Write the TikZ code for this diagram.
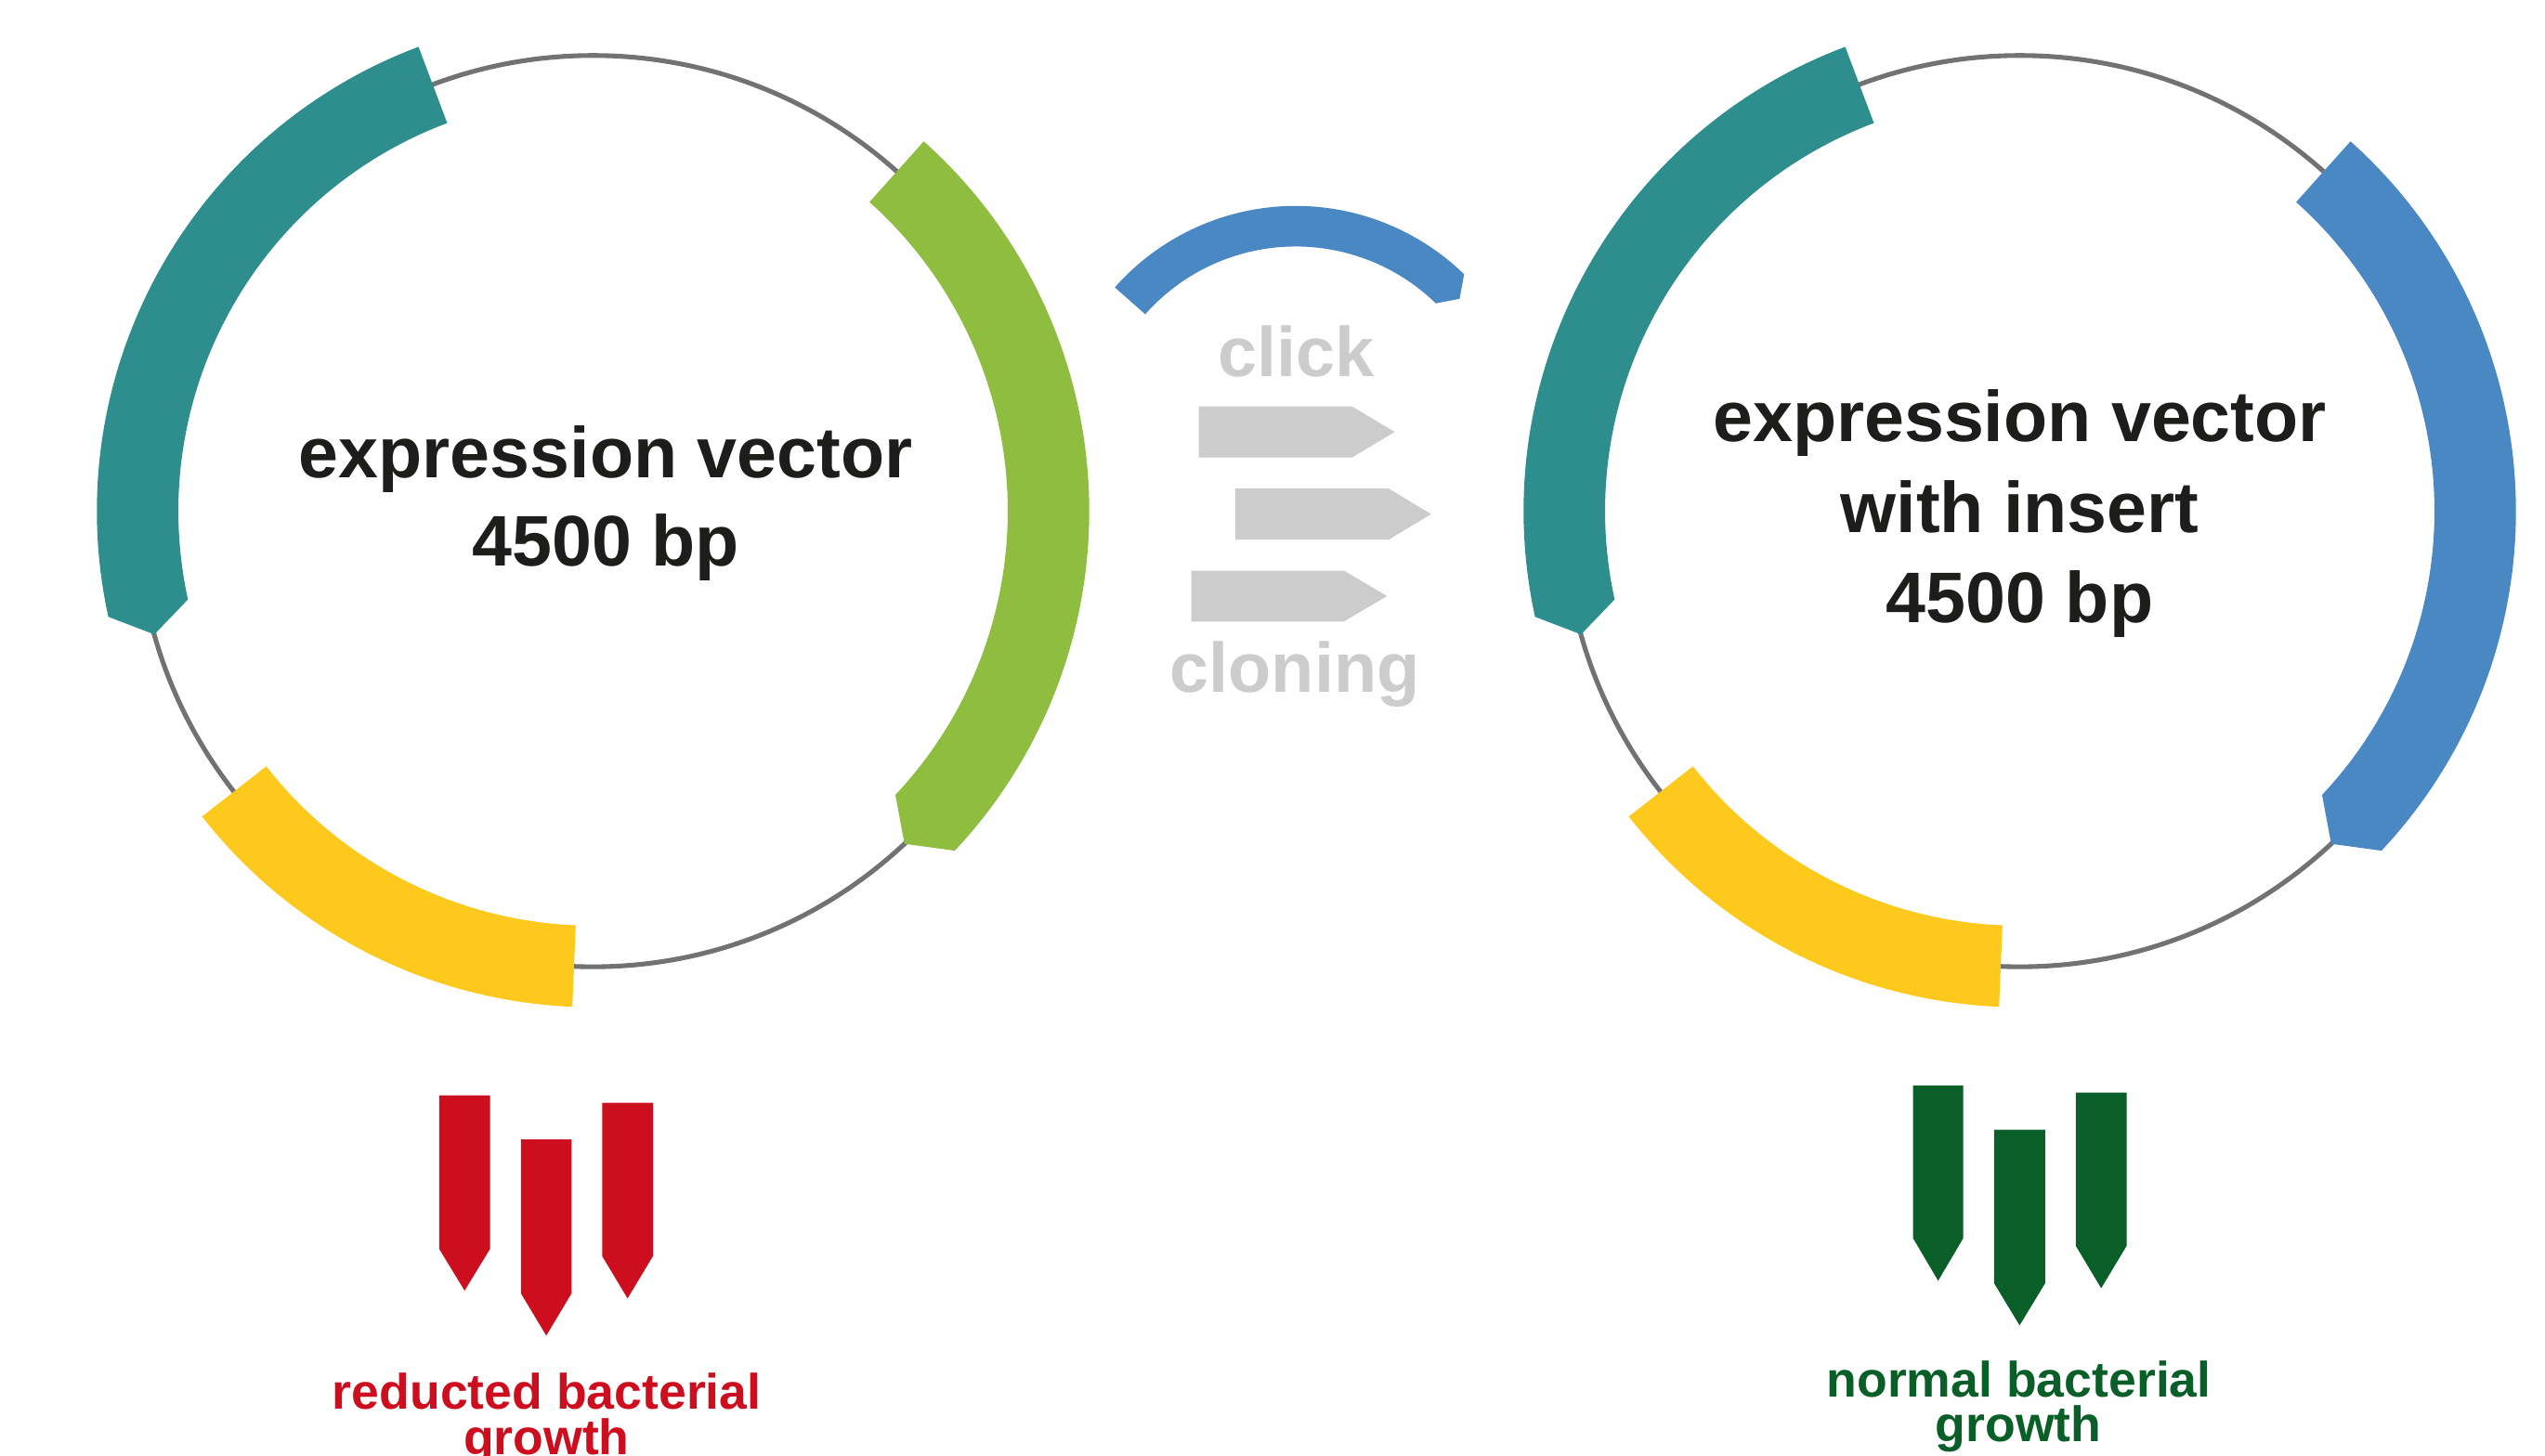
\documentclass[tikz,border=0pt]{standalone}
\usepackage{fontspec}
\setmainfont{Liberation Sans}
\definecolor{cteal}{HTML}{2E8E8E}
\definecolor{cgreen}{HTML}{8FBD40}
\definecolor{cyellow}{HTML}{FCC91C}
\definecolor{cblue}{HTML}{4A88C3}
\definecolor{cred}{HTML}{CD0E1E}
\definecolor{cdkgreen}{HTML}{0A5F29}
\definecolor{cgraybox}{HTML}{CCCCCC}
\definecolor{cline}{HTML}{727272}
\definecolor{ctext}{HTML}{1D1D1B}
\newcommand\ringFlat[3]{% color, start angle, end angle
  \fill[#1] (#2:305.7) arc[start angle=#2, end angle=#3, radius=305.7]
     -- (#3:255.5) arc[start angle=#3, end angle=#2, radius=255.5] -- cycle;}
\newcommand\ringArrow[4]{% color, flat angle, arrow angle, tip angle
  \fill[#1] (#2:305.7) arc[start angle=#2, end angle=#3, radius=305.7]
     -- (#4:280.8) -- (#3:255.5) arc[start angle=#3, end angle=#2, radius=255.5] -- cycle;}
\newcommand\plasmidRing[2]{% centre, colour of right arc
  \begin{scope}[shift={#1}]
    \draw[cline, line width=1.27pt] (0,0) circle[radius=280.8];
    \ringArrow{cteal}{110.6}{192.3}{195.7}
    \ringArrow{#2}{48.2}{-43.2}{-46.9}
    \ringFlat{cyellow}{218}{267.6}
  \end{scope}}
\tikzset{
  maintext/.style={text=ctext, inner sep=0pt, anchor=base, font=\fontsize{19.3}{24}\selectfont\bfseries},
  graytext/.style={text=cgraybox, inner sep=0pt, anchor=base, font=\fontsize{18.9}{23}\selectfont\bfseries},
  growtext/.style={inner sep=0pt, anchor=base, font=\fontsize{13.4}{12.2}\selectfont\bfseries},
  graybox/.style={fill=cgraybox},
}
\begin{document}
\begin{tikzpicture}[x=0.4369pt, y=0.4369pt]
\useasboundingbox (0,0) rectangle (1568,-897);
\fill[white] (0,0) rectangle (1568,-897);

% plasmids
\plasmidRing{(365.4,-315)}{cgreen}
\plasmidRing{(1244.4,-315)}{cblue}

% texts in plasmids
\node[maintext] (l1) at (373.2,-294.7) {expression vector};
\node[maintext] (l2) at (373.2,-348.8) {4500 bp};
\node[maintext] (r1) at (1244.4,-272.2) {expression vector};
\node[maintext] (r2) at (1244.4,-328.2) {with insert};
\node[maintext] (r3) at (1244.4,-383.7) {4500 bp};

% insert arc
\begin{scope}[shift={(798.3,-275.7)}]
  \fill[cblue] (138.5:148.8) arc[start angle=138.5, end angle=45.8, radius=148.8]
     -- (42.2:136.3) -- (45.8:123.8) arc[start angle=45.8, end angle=138.5, radius=123.8] -- cycle;
\end{scope}

% click cloning
\node[graytext] (click) at (798.8,-231.8) {click};
\node[graytext] (cloning) at (797.8,-426.6) {cloning};
\fill[graybox] (738.6,-250.5) -- (833,-250.5) -- (859.3,-266.2) -- (833,-281.9) -- (738.6,-281.9) -- cycle;
\fill[graybox] (761,-301.1) -- (855.5,-301.1) -- (881.8,-316.85) -- (855.5,-332.6) -- (761,-332.6) -- cycle;
\fill[graybox] (734,-351.7) -- (828,-351.7) -- (854.6,-367.35) -- (828,-383) -- (734,-383) -- cycle;

% red bars
\fill[cred] (270.6,-675.1) -- (301.9,-675.1) -- (301.9,-769.7) -- (286.25,-795.4) -- (270.6,-769.7) -- cycle;
\fill[cred] (320.9,-702.3) -- (352.2,-702.3) -- (352.2,-797) -- (336.55,-823.1) -- (320.9,-797) -- cycle;
\fill[cred] (371,-679.6) -- (402.3,-679.6) -- (402.3,-774.1) -- (386.65,-800.2) -- (371,-774.1) -- cycle;
\node[growtext, text=cred] (red1) at (336.9,-868.5) {reducted bacterial};
\node[growtext, text=cred] (red2) at (336.7,-896.5) {growth};

% green bars
\fill[cdkgreen] (1178.6,-669) -- (1209.6,-669) -- (1209.6,-763) -- (1194.1,-789.3) -- (1178.6,-763) -- cycle;
\fill[cdkgreen] (1228.5,-696.2) -- (1260.1,-696.2) -- (1260.1,-790.7) -- (1244.3,-816.8) -- (1228.5,-790.7) -- cycle;
\fill[cdkgreen] (1278.9,-673.3) -- (1310.2,-673.3) -- (1310.2,-767.8) -- (1294.55,-793.9) -- (1278.9,-767.8) -- cycle;
\node[growtext, text=cdkgreen] (grn1) at (1243.9,-860.7) {normal bacterial};
\node[growtext, text=cdkgreen] (grn2) at (1243.5,-888.5) {growth};
\end{tikzpicture}
\end{document}
